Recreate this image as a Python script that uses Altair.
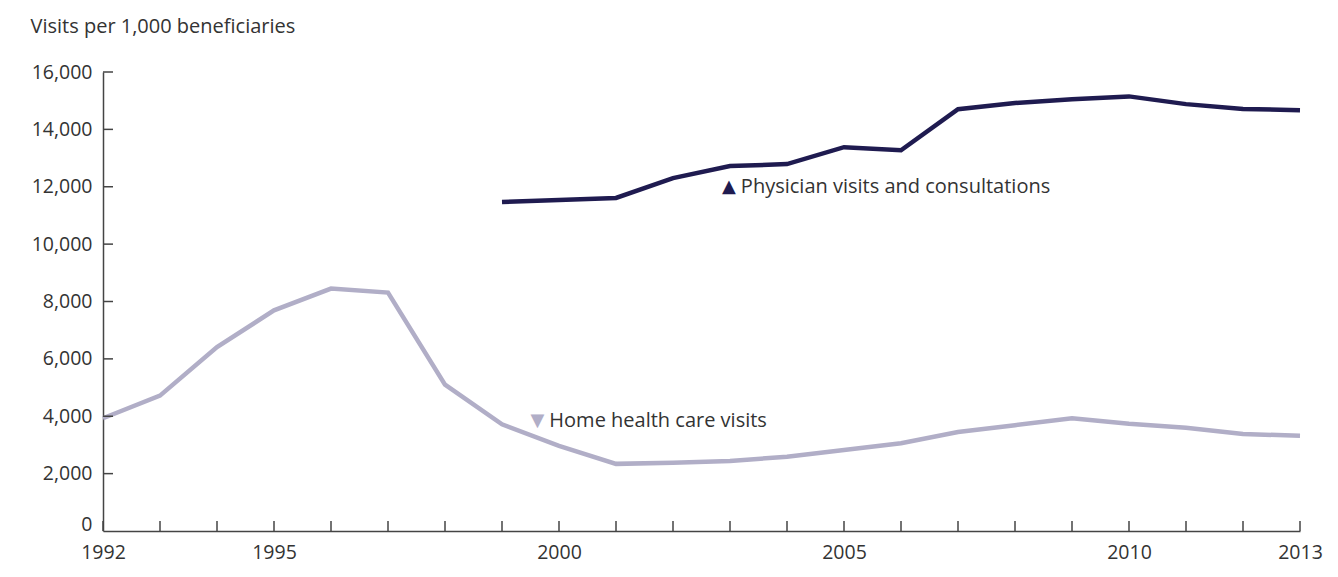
import altair as alt
import pandas as pd

home_years = list(range(1992, 2014))
home_values = [3930, 4720, 6410, 7690, 8450, 8310, 5100, 3720, 2970, 2340,
               2380, 2440, 2590, 2820, 3060, 3450, 3690, 3930, 3740, 3600, 3380, 3320]
phys_years = list(range(1999, 2014))
phys_values = [11470, 11540, 11610, 12300, 12720, 12790, 13380, 13270, 14700,
               14920, 15050, 15150, 14880, 14710, 14670]

x_ticks = list(range(1992, 2014))
x_labels = [1992, 1995, 2000, 2005, 2010, 2013]
y_ticks = [0, 2000, 4000, 6000, 8000, 10000, 12000, 14000, 16000]

series_names = ["Home health care visits", "Physician visits and consultations"]
series_colors = ["#b1aec7", "#1f1b50"]
text_color = "#333333"
FONT = "Open Sans"
FS = 19.5

W, H = 1197, 459

df = pd.DataFrame(
    [{"year": y, "value": v, "series": series_names[0]} for y, v in zip(home_years, home_values)]
    + [{"year": y, "value": v, "series": series_names[1]} for y, v in zip(phys_years, phys_values)]
)

xscale = alt.Scale(domain=[1992, 2013], nice=False, zero=False)
yscale = alt.Scale(domain=[0, 16000], nice=False)

lines = alt.Chart(df).mark_line(strokeWidth=4.5, strokeJoin="miter").encode(
    x=alt.X("year:Q", scale=xscale,
            axis=alt.Axis(values=x_labels, format="d", ticks=False, domain=True,
                          domainColor="#444444", domainWidth=1.5, grid=False,
                          labelFont=FONT, labelFontSize=FS, labelColor=text_color,
                          labelPadding=12, title=None, labelFlush=False)),
    y=alt.Y("value:Q", scale=yscale,
            axis=alt.Axis(values=y_ticks, format=",d", ticks=False, domain=True,
                          domainColor="#444444", domainWidth=1.5, grid=False,
                          labelFont=FONT, labelFontSize=FS, labelColor=text_color,
                          labelPadding=11,
                          labelOffset={"condition": {"test": "datum.value == 0", "value": -7}, "value": 0},
                          title="Visits per 1,000 beneficiaries", titleAngle=0,
                          titleAlign="left", titleBaseline="alphabetic",
                          titleX=-73, titleY=-40, titleFont=FONT, titleFontSize=20,
                          titleFontWeight="normal", titleColor=text_color)),
    color=alt.Color("series:N", scale=alt.Scale(domain=series_names, range=series_colors), legend=None),
    detail="series:N",
)

xt = alt.Chart(pd.DataFrame({"year": x_ticks})).mark_rule(color="#444444", strokeWidth=1.5).encode(
    x=alt.X("year:Q", scale=xscale), y=alt.value(H), y2=alt.value(H - 10))
yt = alt.Chart(pd.DataFrame({"value": y_ticks[1:]})).mark_rule(color="#444444", strokeWidth=1.5).encode(
    y=alt.Y("value:Q", scale=yscale), x=alt.value(0), x2=alt.value(10))

ann = pd.DataFrame({
    "year": [2002.98, 1999.62],
    "value": [12000, 3850],
    "label": ["Physician visits and consultations", "Home health care visits"],
    "series": [series_names[1], series_names[0]],
    "tri": ["▲", "▼"],
})
tri = alt.Chart(ann).mark_text(fontSize=18, font="DejaVu Sans", align="center", baseline="middle").encode(
    x=alt.X("year:Q", scale=xscale), y=alt.Y("value:Q", scale=yscale), text="tri:N",
    color=alt.Color("series:N", scale=alt.Scale(domain=series_names, range=series_colors), legend=None))
lab = alt.Chart(ann).mark_text(fontSize=20, font=FONT, align="left", baseline="middle",
                               dx=12, color=text_color).encode(
    x=alt.X("year:Q", scale=xscale), y=alt.Y("value:Q", scale=yscale), text="label:N")

chart = alt.layer(lines, xt, yt, tri, lab).properties(
    width=W, height=H,
    background="white",
    autosize=alt.AutoSizeParams(type="none"),
    padding={"left": 95, "top": 64, "right": 30, "bottom": 38},
).configure_view(strokeWidth=0)

chart.save("out.html", embed_options={"renderer": "svg", "actions": False})
